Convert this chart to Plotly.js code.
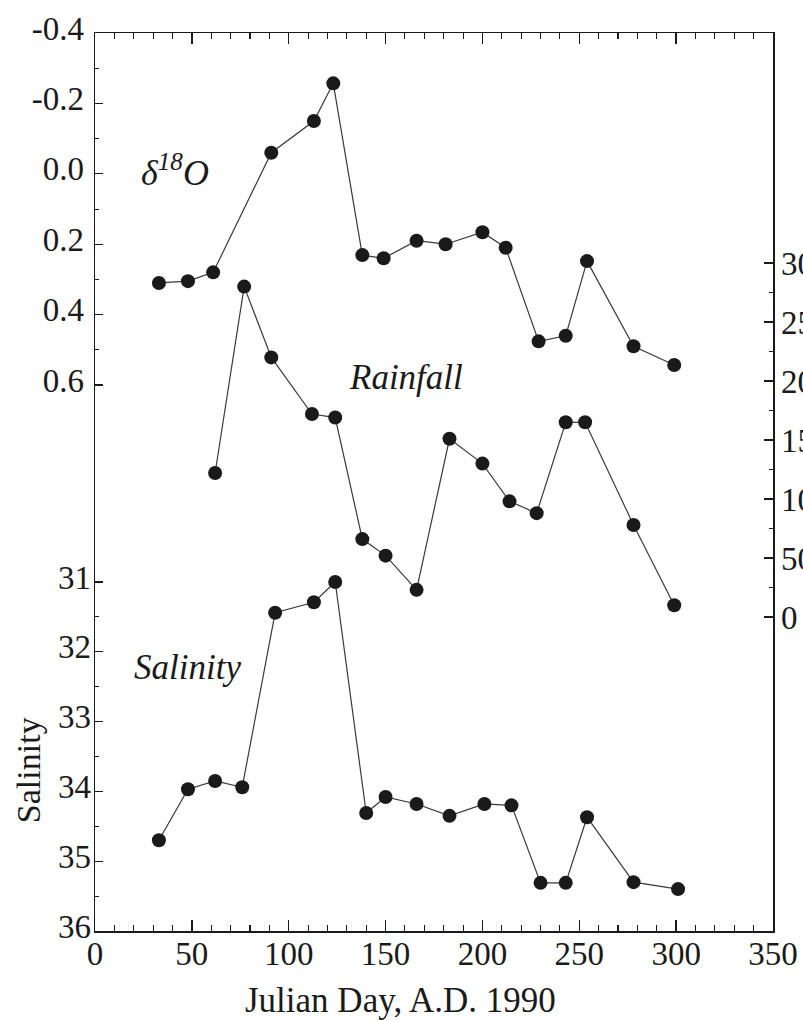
<!DOCTYPE html>
<html>
<head>
<meta charset="utf-8">
<script src="https://cdn.plot.ly/plotly-3.0.1.min.js"></script>
<style>
  html, body { margin: 0; padding: 0; background: #fff; overflow: hidden; }
  #chart { width: 803px; height: 1020px; }
</style>
</head>
<body>
<div id="chart"></div>
<script>
// ---- data ----
const d18oDays = [33, 48, 61, 91, 113, 123, 138, 149, 166, 181, 200, 212, 229, 243, 254, 278, 299];
const d18oVals = [0.31, 0.305, 0.28, -0.06, -0.15, -0.257, 0.231, 0.24, 0.19, 0.20, 0.166, 0.21, 0.476, 0.46, 0.248, 0.49, 0.543];

const rainDays = [62, 77, 91, 112, 124, 138, 150, 166, 183, 200, 214, 228, 243, 253, 278, 299];
const rainVals = [122, 280, 220, 172, 169, 66, 52, 23, 151, 130, 98, 88, 165, 165, 78, 10];

const salDays = [33, 48, 62, 76, 93, 113, 124, 140, 150, 166, 183, 201, 215, 230, 243, 254, 278, 301];
const salVals = [34.70, 33.97, 33.85, 33.94, 31.44, 31.29, 31.0, 34.31, 34.08, 34.18, 34.35, 34.18, 34.2, 35.31, 35.31, 34.37, 35.3, 35.4];

const xTicks = [0, 50, 100, 150, 200, 250, 300, 350];
const d18oTicks = [-0.4, -0.2, 0.0, 0.2, 0.4, 0.6];
const d18oTickText = ['-0.4', '-0.2', '0.0', '0.2', '0.4', '0.6'];
const salTicks = [31, 32, 33, 34, 35, 36];
const rainTicks = [0, 50, 100, 150, 200, 250, 300];

// minor tick positions
const xMinor = [];
for (let v = 0; v <= 350; v += 10) xMinor.push(v);
const d18oMinor = [-0.3, -0.1, 0.1, 0.3, 0.5];
const salMinor = [31.5, 32.5, 33.5, 34.5, 35.5];
const rainMinor = [25, 75, 125, 175, 225, 275];

const FONT = '"Liberation Serif", "Times New Roman", serif';
const INK = '#1a1a1a';
const LINE = '#3a3a3a';

const markerStyle = { color: INK, size: 14 };
const lineStyle = { color: LINE, width: 1.2 };

const traces = [
  { x: d18oDays, y: d18oVals, xaxis: 'x', yaxis: 'y', mode: 'lines+markers', name: 'δ18O',
    marker: markerStyle, line: lineStyle, connectgaps: true },
  { x: rainDays, y: rainVals, xaxis: 'x', yaxis: 'y3', mode: 'lines+markers', name: 'Rainfall',
    marker: markerStyle, line: lineStyle },
  { x: salDays, y: salVals, xaxis: 'x', yaxis: 'y2', mode: 'lines+markers', name: 'Salinity',
    marker: markerStyle, line: lineStyle }
];

const tickFont = { family: FONT, size: 33, color: INK };

const layout = {
  width: 803, height: 1020,
  margin: { l: 95, r: 30, t: 33, b: 89, pad: 0 },
  paper_bgcolor: '#ffffff', plot_bgcolor: '#ffffff',
  showlegend: false,
  font: { family: FONT, color: INK },
  xaxis: {
    range: [0, 350], tickmode: 'array', tickvals: xTicks,
    ticks: 'inside', ticklen: 11, tickwidth: 1.3, tickcolor: INK,
    showline: true, linecolor: INK, linewidth: 1.5, mirror: 'ticks',
    showgrid: false, zeroline: false,
    tickfont: tickFont, ticklabelstandoff: -7,
    minor: { tickmode: 'array', tickvals: xMinor, ticks: 'inside', ticklen: 6, tickwidth: 1.1, tickcolor: INK, showgrid: false },
    fixedrange: true
  },
  yaxis: {
    range: [2.151, -0.4], tickmode: 'array', tickvals: d18oTicks, ticktext: d18oTickText,
    ticks: 'inside', ticklen: 8, tickwidth: 1.2, tickcolor: INK,
    showline: true, linecolor: INK, linewidth: 1.5,
    showgrid: false, zeroline: false,
    tickfont: tickFont, ticklabelstandoff: 3, ticklabelshift: 5,
    minor: { tickmode: 'array', tickvals: d18oMinor, ticks: 'inside', ticklen: 4, tickwidth: 1, tickcolor: INK, showgrid: false },
    fixedrange: true
  },
  yaxis2: {
    overlaying: 'y', side: 'left', anchor: 'x',
    range: [36, 23.135], tickmode: 'array', tickvals: salTicks,
    ticks: 'inside', ticklen: 8, tickwidth: 1.2, tickcolor: INK,
    showline: false, showgrid: false, zeroline: false,
    tickfont: tickFont, ticklabelstandoff: 3, ticklabelshift: 5,
    minor: { tickmode: 'array', tickvals: salMinor, ticks: 'inside', ticklen: 4, tickwidth: 1, tickcolor: INK, showgrid: false },
    fixedrange: true
  },
  yaxis3: {
    overlaying: 'y', side: 'right', anchor: 'x',
    range: [-266.1, 494.9], tickmode: 'array', tickvals: rainTicks,
    ticks: 'inside', ticklen: 9, tickwidth: 1.2, tickcolor: INK,
    showline: true, linecolor: INK, linewidth: 1.5,
    showgrid: false, zeroline: false,
    tickfont: tickFont, ticklabelstandoff: 0,
    minor: { tickmode: 'array', tickvals: rainMinor, ticks: 'inside', ticklen: 4, tickwidth: 1, tickcolor: INK, showgrid: false },
    fixedrange: true
  },
  annotations: [
    { text: '<i>δ<sup>18</sup>O</i>', xref: 'paper', yref: 'paper', x: 0.118, y: 0.847,
      xanchor: 'center', yanchor: 'middle',
      showarrow: false, font: { family: FONT, size: 36, color: INK } },
    { text: '<i>Rainfall</i>', xref: 'paper', yref: 'paper', x: 0.459, y: 0.616,
      xanchor: 'center', yanchor: 'middle',
      showarrow: false, font: { family: FONT, size: 35, color: INK } },
    { text: '<i>Salinity</i>', xref: 'paper', yref: 'paper', x: 0.136, y: 0.293,
      xanchor: 'center', yanchor: 'middle',
      showarrow: false, font: { family: FONT, size: 35, color: INK } },
    { text: 'Salinity', xref: 'paper', yref: 'paper', x: -0.099, y: 0.179, textangle: -90,
      xanchor: 'center', yanchor: 'middle',
      showarrow: false, font: { family: FONT, size: 34, color: INK } },
    { text: 'Julian Day, A.D. 1990', xref: 'paper', yref: 'paper', x: 0.45, y: -0.077,
      xanchor: 'center', yanchor: 'middle',
      showarrow: false, font: { family: FONT, size: 35, color: INK } }
  ]
};

Plotly.newPlot('chart', traces, layout, { displayModeBar: false, staticPlot: true });
</script>
</body>
</html>
